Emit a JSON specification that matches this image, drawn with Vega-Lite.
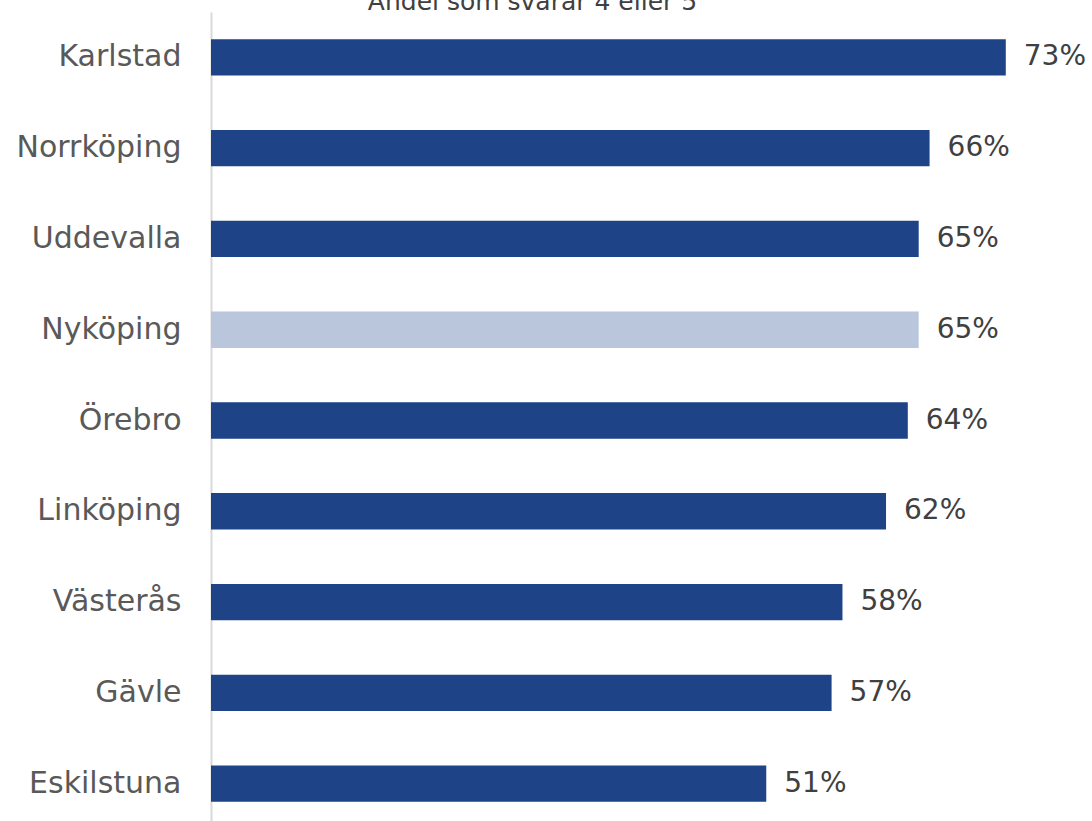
{
  "$schema": "https://vega.github.io/schema/vega-lite/v6.json",
  "autosize": {"type": "none"},
  "width": 871,
  "height": 817,
  "padding": {"left": 211, "top": 12, "right": 10, "bottom": 0},
  "background": "white",
  "title": {
    "text": "Andel som svarar 4 eller 5",
    "anchor": "middle",
    "dx": -114,
    "offset": -23,
    "baseline": "alphabetic",
    "font": "DejaVu Sans",
    "fontSize": 25,
    "fontWeight": "normal",
    "color": "#404040"
  },
  "data": {
    "values": [
      {"stad": "Karlstad", "andel": 0.73, "grupp": "ovr"},
      {"stad": "Norrköping", "andel": 0.66, "grupp": "ovr"},
      {"stad": "Uddevalla", "andel": 0.65, "grupp": "ovr"},
      {"stad": "Nyköping", "andel": 0.65, "grupp": "nyk"},
      {"stad": "Örebro", "andel": 0.64, "grupp": "ovr"},
      {"stad": "Linköping", "andel": 0.62, "grupp": "ovr"},
      {"stad": "Västerås", "andel": 0.58, "grupp": "ovr"},
      {"stad": "Gävle", "andel": 0.57, "grupp": "ovr"},
      {"stad": "Eskilstuna", "andel": 0.51, "grupp": "ovr"}
    ]
  },
  "encoding": {
    "y": {
      "field": "stad",
      "type": "nominal",
      "sort": null,
      "scale": {"paddingInner": 0.6, "paddingOuter": 0.3},
      "axis": {
        "title": null,
        "ticks": false,
        "domainColor": "#D9D9D9",
        "domainWidth": 2,
        "labelFont": "DejaVu Sans",
        "labelFontSize": 30,
        "labelColor": "#595959",
        "labelPadding": 30
      }
    },
    "x": {
      "field": "andel",
      "type": "quantitative",
      "scale": {"domain": [0, 0.8]},
      "axis": null
    }
  },
  "layer": [
    {
      "mark": {"type": "bar"},
      "encoding": {
        "color": {
          "field": "grupp",
          "type": "nominal",
          "scale": {"domain": ["ovr", "nyk"], "range": ["#1E4387", "#BAC6DC"]},
          "legend": null
        }
      }
    },
    {
      "mark": {"type": "text", "align": "left", "dx": 18, "font": "DejaVu Sans", "fontSize": 28, "color": "#404040"},
      "encoding": {
        "text": {"field": "andel", "type": "quantitative", "format": ".0%"}
      }
    }
  ],
  "config": {"view": {"stroke": null}}
}
